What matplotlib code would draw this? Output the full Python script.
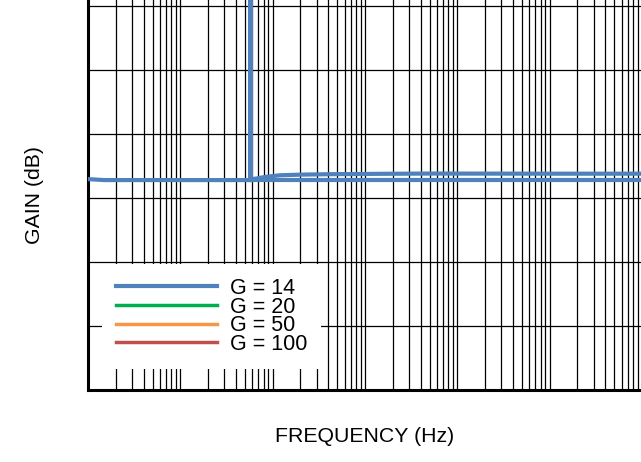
"""
Gain vs frequency, G = 14 trace with legend for all gains.
"""
import numpy as np
import matplotlib
matplotlib.use('Agg')
import matplotlib.pyplot as plt

plt.rcParams['font.family'] = ['Liberation Sans', 'DejaVu Sans']

# Gain settings shown in the legend
gain_labels = ['G = 14', 'G = 20', 'G = 50', 'G = 100']
gain_colors = ['#4f81bd', '#00b050', '#f79646', '#c0504d']

# G = 14, main trace (with the spike near 575 Hz)
freq_a = [10, 15, 50, 200, 575, 575, 575, 700, 830, 1200, 2000, 4200, 15000, 50000, 1e6, 1e7]
gain_a = [22.95, 22.8, 22.8, 22.8, 22.8, 80.0, 22.9, 23.1, 23.3, 23.55, 23.65, 23.72, 23.78, 23.82, 23.8, 23.8]

# G = 14, flat trace
freq_b = [575, 2000, 20000, 200000, 1e6, 1e7]
gain_b = [22.8, 22.8, 22.8, 22.8, 22.8, 22.8]

fig = plt.figure(figsize=(6.41, 4.62), dpi=100)
W, H = 641, 462
ax = fig.add_axes([88 / W, (H - 390) / H, (642 - 88) / W, 390 / H])

ax.plot(freq_a, gain_a, color=gain_colors[0], lw=3.0, label=gain_labels[0],
        solid_joinstyle='miter', zorder=3)
ax.plot(freq_b, gain_b, color=gain_colors[0], lw=3.0, zorder=3)
# other gains have no visible data on this plot
for lab, col in zip(gain_labels[1:], gain_colors[1:]):
    ax.plot([], [], color=col, lw=2.5, label=lab)

ax.set_xscale('log')
ax.set_xlim(10, 1e7)
ax.set_ylim(-10, 50 + 6 / 6.4)
ax.set_yticks(np.arange(-10, 51, 10))
ax.xaxis.set_major_locator(matplotlib.ticker.LogLocator(base=10, numticks=20))
ax.xaxis.set_minor_locator(matplotlib.ticker.LogLocator(base=10, subs=np.arange(2, 10), numticks=20))
ax.grid(True, which='both', axis='x', color='black', lw=0.9)
ax.grid(True, which='major', axis='y', color='black', lw=0.9)
ax.set_axisbelow(True)
ax.tick_params(which='both', length=0, labelbottom=False, labelleft=False)

for s in ['top', 'right']:
    ax.spines[s].set_visible(False)
for s in ['left', 'bottom']:
    ax.spines[s].set_linewidth(2.2)
    ax.spines[s].set_color('black')

ax.set_xlabel('FREQUENCY (Hz)', fontsize=15.3)
ax.xaxis.set_label_coords(0.5, (390 - 437) / 390)
ax.xaxis.label.set_va('center')
ax.set_ylabel('GAIN (dB)', fontsize=15.3)
ax.yaxis.set_label_coords((35 - 88) / 554, 0.5)
ax.yaxis.label.set_va('center')

leg = ax.legend(loc='upper left', bbox_to_anchor=(14 / 554, (390 - 264) / 390),
                fontsize=15.5, frameon=True, fancybox=False, framealpha=1,
                edgecolor='none', borderaxespad=0, borderpad=0.65,
                labelspacing=-0.11, handlelength=4.7, handletextpad=0.6)
leg.get_frame().set_linewidth(0)

fig.savefig('out.png', dpi=100)
